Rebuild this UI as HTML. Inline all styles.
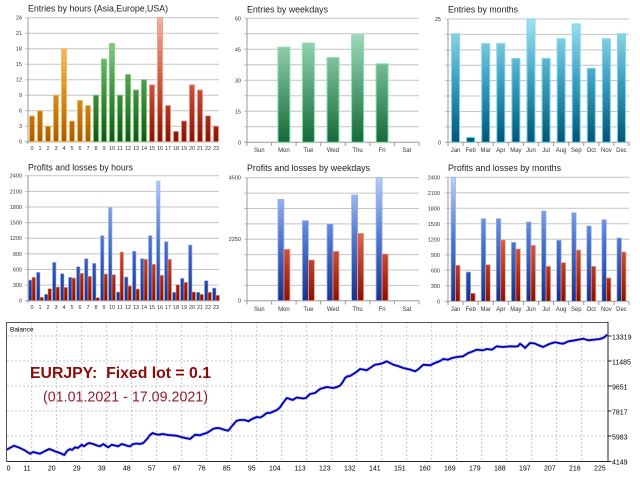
<!DOCTYPE html>
<html><head><meta charset="utf-8"><style>
html,body{margin:0;padding:0;background:#fff;}
svg{display:block;font-family:"Liberation Sans",sans-serif;}
.t{font-size:9px;fill:#222;}
.a{font-size:5.5px;fill:#333;}
.w{font-size:6px;fill:#333;}
.b{font-size:7px;fill:#000;}
</style></head><body>
<svg width="640" height="480" viewBox="0 0 640 480">
<defs>
<linearGradient id="gO" gradientUnits="userSpaceOnUse" x1="0" y1="17.7" x2="0" y2="141.7"><stop offset="0" stop-color="#fcd69a"/><stop offset="0.5" stop-color="#e69c2c"/><stop offset="1" stop-color="#ad5a00"/></linearGradient>
<linearGradient id="gG" gradientUnits="userSpaceOnUse" x1="0" y1="17.7" x2="0" y2="141.7"><stop offset="0" stop-color="#b0e4b0"/><stop offset="0.5" stop-color="#4ca24c"/><stop offset="1" stop-color="#0a5a0a"/></linearGradient>
<linearGradient id="gR" gradientUnits="userSpaceOnUse" x1="0" y1="17.7" x2="0" y2="141.7"><stop offset="0" stop-color="#f6b0a0"/><stop offset="0.5" stop-color="#d05a40"/><stop offset="1" stop-color="#8c1000"/></linearGradient>
<linearGradient id="gW" gradientUnits="userSpaceOnUse" x1="0" y1="18.3" x2="0" y2="142.3"><stop offset="0" stop-color="#b4ead0"/><stop offset="0.5" stop-color="#62aa82"/><stop offset="1" stop-color="#146a38"/></linearGradient>
<linearGradient id="gM" gradientUnits="userSpaceOnUse" x1="0" y1="19" x2="0" y2="142.3"><stop offset="0" stop-color="#a2e2f2"/><stop offset="0.5" stop-color="#3e9ebe"/><stop offset="1" stop-color="#005674"/></linearGradient>
<linearGradient id="gB" gradientUnits="userSpaceOnUse" x1="0" y1="176" x2="0" y2="301"><stop offset="0" stop-color="#bcd0f8"/><stop offset="0.5" stop-color="#5078d0"/><stop offset="1" stop-color="#1a3088"/></linearGradient>
<linearGradient id="gP" gradientUnits="userSpaceOnUse" x1="0" y1="176" x2="0" y2="301"><stop offset="0" stop-color="#f8ac94"/><stop offset="0.5" stop-color="#d86048"/><stop offset="1" stop-color="#8a1000"/></linearGradient>
</defs>
<rect width="640" height="480" fill="#fff"/>

<!-- ============ Chart A: Entries by hours ============ -->
<text class="t" x="28" y="11.5" textLength="140" lengthAdjust="spacingAndGlyphs">Entries by hours (Asia,Europe,USA)</text>
<path d="M25 126.2H219M25 110.7H219M25 95.2H219M25 79.7H219M25 64.2H219M25 48.7H219M25 33.2H219M25 17.7H219" stroke="#c4c4c4" stroke-width="1" fill="none"/>
<path d="M25 141.7H219M28 17.7V144" stroke="#9a9a9a" stroke-width="1" fill="none"/>
<g class="a" text-anchor="end">
<text x="22" y="143.7">0</text><text x="22" y="128.2">3</text><text x="22" y="112.7">6</text><text x="22" y="97.2">9</text><text x="22" y="81.7">12</text><text x="22" y="66.2">15</text><text x="22" y="50.7">18</text><text x="22" y="35.2">21</text><text x="22" y="19.7">24</text>
</g>
<g fill="url(#gO)" stroke="#f8bc58" stroke-width="0.8">
<rect x="29.5" y="115.87" width="5" height="25.83"/><rect x="37.5" y="110.7" width="5" height="31"/><rect x="45.5" y="126.2" width="5" height="15.5"/><rect x="53.5" y="95.2" width="5" height="46.5"/><rect x="61.5" y="48.7" width="5" height="93"/><rect x="69.5" y="121.03" width="5" height="20.67"/><rect x="77.5" y="100.37" width="5" height="41.33"/><rect x="85.5" y="105.53" width="5" height="36.17"/>
</g>
<g fill="url(#gG)" stroke="#78c878" stroke-width="0.8">
<rect x="93.5" y="95.2" width="5" height="46.5"/><rect x="101.5" y="59.03" width="5" height="82.67"/><rect x="109.5" y="43.53" width="5" height="98.17"/><rect x="117.5" y="95.2" width="5" height="46.5"/><rect x="125.5" y="74.53" width="5" height="67.17"/><rect x="133.5" y="90.03" width="5" height="51.67"/><rect x="141.5" y="79.7" width="5" height="62"/>
</g>
<g fill="url(#gR)" stroke="#f09482" stroke-width="0.8">
<rect x="149.5" y="84.87" width="5" height="56.83"/><rect x="157.5" y="17.7" width="5" height="124"/><rect x="165.5" y="105.53" width="5" height="36.17"/><rect x="173.5" y="131.37" width="5" height="10.33"/><rect x="181.5" y="121.03" width="5" height="20.67"/><rect x="189.5" y="84.87" width="5" height="56.83"/><rect x="197.5" y="90.03" width="5" height="51.67"/><rect x="205.5" y="115.87" width="5" height="25.83"/><rect x="213.5" y="126.2" width="5" height="15.5"/>
</g>
<g class="a" text-anchor="middle">
<text x="32" y="150">0</text><text x="40" y="150">1</text><text x="48" y="150">2</text><text x="56" y="150">3</text><text x="64" y="150">4</text><text x="72" y="150">5</text><text x="80" y="150">6</text><text x="88" y="150">7</text><text x="96" y="150">8</text><text x="104" y="150">9</text><text x="112" y="150">10</text><text x="120" y="150">11</text><text x="128" y="150">12</text><text x="136" y="150">13</text><text x="144" y="150">14</text><text x="152" y="150">15</text><text x="160" y="150">16</text><text x="168" y="150">17</text><text x="176" y="150">18</text><text x="184" y="150">19</text><text x="192" y="150">20</text><text x="200" y="150">21</text><text x="208" y="150">22</text><text x="216" y="150">23</text>
</g>

<!-- ============ Chart B: Entries by weekdays ============ -->
<text class="t" x="247" y="12.5" textLength="81" lengthAdjust="spacingAndGlyphs">Entries by weekdays</text>
<path d="M244 126.8H419M244 111.3H419M244 95.8H419M244 80.3H419M244 64.8H419M244 49.3H419M244 33.8H419M244 18.3H419" stroke="#c4c4c4" stroke-width="1" fill="none"/>
<path d="M244 142.3H419M247 18.3V146M271.6 142.3V146M296.1 142.3V146M320.7 142.3V146M345.3 142.3V146M369.9 142.3V146M394.4 142.3V146M419 142.3V146" stroke="#9a9a9a" stroke-width="1" fill="none"/>
<g class="a" text-anchor="end">
<text x="241" y="144.3">0</text><text x="241" y="113.3">15</text><text x="241" y="82.3">30</text><text x="241" y="51.3">45</text><text x="241" y="20.3">60</text>
</g>
<g fill="url(#gW)" stroke="#86e2ae" stroke-width="1">
<rect x="277.9" y="47.23" width="12" height="95.07"/><rect x="302.4" y="43.1" width="12" height="99.2"/><rect x="327" y="57.57" width="12" height="84.73"/><rect x="351.6" y="34.83" width="12" height="107.47"/><rect x="376.1" y="63.77" width="12" height="78.53"/>
</g>
<g class="w" text-anchor="middle">
<text x="259.3" y="152">Sun</text><text x="283.9" y="152">Mon</text><text x="308.4" y="152">Tue</text><text x="333" y="152">Wed</text><text x="357.6" y="152">Thu</text><text x="382.1" y="152">Fri</text><text x="406.7" y="152">Sat</text>
</g>

<!-- ============ Chart C: Entries by months ============ -->
<text class="t" x="448" y="12.5" textLength="70" lengthAdjust="spacingAndGlyphs">Entries by months</text>
<path d="M445 126.89H629M445 111.48H629M445 96.06H629M445 80.65H629M445 65.24H629M445 49.83H629M445 34.41H629M445 19H629" stroke="#c4c4c4" stroke-width="1" fill="none"/>
<path d="M445 142.3H629M448 19V146M463.08 142.3V146M478.17 142.3V146M493.25 142.3V146M508.33 142.3V146M523.42 142.3V146M538.5 142.3V146M553.58 142.3V146M568.67 142.3V146M583.75 142.3V146M598.83 142.3V146M613.92 142.3V146M629 142.3V146" stroke="#9a9a9a" stroke-width="1" fill="none"/>
<g class="a" text-anchor="end">
<text x="441" y="144.3">0</text><text x="441" y="21">25</text>
</g>
<g fill="url(#gM)" stroke="#74d8f2" stroke-width="1">
<rect x="451.54" y="33.8" width="8" height="108.5"/><rect x="466.63" y="137.37" width="8" height="4.93"/><rect x="481.71" y="43.66" width="8" height="98.64"/><rect x="496.79" y="43.66" width="8" height="98.64"/><rect x="511.88" y="58.46" width="8" height="83.84"/><rect x="526.96" y="19" width="8" height="123.3"/><rect x="542.04" y="58.46" width="8" height="83.84"/><rect x="557.13" y="38.73" width="8" height="103.57"/><rect x="572.21" y="23.93" width="8" height="118.37"/><rect x="587.29" y="68.32" width="8" height="73.98"/><rect x="602.38" y="38.73" width="8" height="103.57"/><rect x="617.46" y="33.8" width="8" height="108.5"/>
</g>
<g class="w" text-anchor="middle">
<text x="455.54" y="152">Jan</text><text x="470.63" y="152">Feb</text><text x="485.71" y="152">Mar</text><text x="500.79" y="152">Apr</text><text x="515.88" y="152">May</text><text x="530.96" y="152">Jun</text><text x="546.04" y="152">Jul</text><text x="561.13" y="152">Aug</text><text x="576.21" y="152">Sep</text><text x="591.29" y="152">Oct</text><text x="606.38" y="152">Nov</text><text x="621.46" y="152">Dec</text>
</g>

<!-- ============ Chart D: Profits and losses by hours ============ -->
<text class="t" x="28" y="170.5" textLength="105" lengthAdjust="spacingAndGlyphs">Profits and losses by hours</text>
<path d="M25 285.08H219M25 269.45H219M25 253.83H219M25 238.2H219M25 222.58H219M25 206.95H219M25 191.33H219M25 175.7H219" stroke="#c4c4c4" stroke-width="1" fill="none"/>
<path d="M25 300.7H219M28 175.7V303" stroke="#9a9a9a" stroke-width="1" fill="none"/>
<g class="a" text-anchor="end">
<text x="22" y="302.7">0</text><text x="22" y="287.08">300</text><text x="22" y="271.45">600</text><text x="22" y="255.83">900</text><text x="22" y="240.2">1200</text><text x="22" y="224.58">1500</text><text x="22" y="208.95">1800</text><text x="22" y="193.33">2100</text><text x="22" y="177.7">2400</text>
</g>
<g fill="url(#gB)" stroke="#96b4f2" stroke-width="0.6">
<rect x="28.5" y="280" width="3.5" height="20.7"/><rect x="36.5" y="272.33" width="3.5" height="28.37"/><rect x="44.5" y="294.33" width="3.5" height="6.37"/><rect x="52.5" y="262.33" width="3.5" height="38.37"/><rect x="60.5" y="273.67" width="3.5" height="27.03"/><rect x="68.5" y="277.33" width="3.5" height="23.37"/><rect x="76.5" y="266.67" width="3.5" height="34.03"/><rect x="84.5" y="258.67" width="3.5" height="42.03"/><rect x="92.5" y="263.33" width="3.5" height="37.37"/><rect x="100.5" y="235.67" width="3.5" height="65.03"/><rect x="108.5" y="207.67" width="3.5" height="93.03"/><rect x="116.5" y="292" width="3.5" height="8.7"/><rect x="124.5" y="277" width="3.5" height="23.7"/><rect x="132.5" y="251.33" width="3.5" height="49.37"/><rect x="140.5" y="258.67" width="3.5" height="42.03"/><rect x="148.5" y="235.67" width="3.5" height="65.03"/><rect x="156.5" y="181" width="3.5" height="119.7"/><rect x="164.5" y="241.67" width="3.5" height="59.03"/><rect x="172.5" y="292.33" width="3.5" height="8.37"/><rect x="180.5" y="278.33" width="3.5" height="22.37"/><rect x="188.5" y="245" width="3.5" height="55.7"/><rect x="196.5" y="292.33" width="3.5" height="8.37"/><rect x="204.5" y="280.67" width="3.5" height="20.03"/><rect x="212.5" y="288" width="3.5" height="12.7"/>
</g>
<g fill="url(#gP)" stroke="#f29c88" stroke-width="0.6">
<rect x="32" y="277.3" width="3.5" height="23.4"/><rect x="40" y="297.33" width="3.5" height="3.37"/><rect x="48" y="288.67" width="3.5" height="12.03"/><rect x="56" y="287" width="3.5" height="13.7"/><rect x="64" y="287.33" width="3.5" height="13.37"/><rect x="72" y="278" width="3.5" height="22.7"/><rect x="80" y="273.33" width="3.5" height="27.37"/><rect x="88" y="276.33" width="3.5" height="24.37"/><rect x="96" y="297.67" width="3.5" height="3.03"/><rect x="104" y="274" width="3.5" height="26.7"/><rect x="112" y="274.67" width="3.5" height="26.03"/><rect x="120" y="252" width="3.5" height="48.7"/><rect x="128" y="286" width="3.5" height="14.7"/><rect x="136" y="289" width="3.5" height="11.7"/><rect x="144" y="259.33" width="3.5" height="41.37"/><rect x="152" y="264.33" width="3.5" height="36.37"/><rect x="160" y="275.33" width="3.5" height="25.37"/><rect x="168" y="259.33" width="3.5" height="41.37"/><rect x="176" y="284.67" width="3.5" height="16.03"/><rect x="184" y="282.33" width="3.5" height="18.37"/><rect x="192" y="292" width="3.5" height="8.7"/><rect x="200" y="294.33" width="3.5" height="6.37"/><rect x="208" y="292.33" width="3.5" height="8.37"/><rect x="216" y="295.33" width="3.5" height="5.37"/>
</g>
<g class="a" text-anchor="middle">
<text x="32" y="309">0</text><text x="40" y="309">1</text><text x="48" y="309">2</text><text x="56" y="309">3</text><text x="64" y="309">4</text><text x="72" y="309">5</text><text x="80" y="309">6</text><text x="88" y="309">7</text><text x="96" y="309">8</text><text x="104" y="309">9</text><text x="112" y="309">10</text><text x="120" y="309">11</text><text x="128" y="309">12</text><text x="136" y="309">13</text><text x="144" y="309">14</text><text x="152" y="309">15</text><text x="160" y="309">16</text><text x="168" y="309">17</text><text x="176" y="309">18</text><text x="184" y="309">19</text><text x="192" y="309">20</text><text x="200" y="309">21</text><text x="208" y="309">22</text><text x="216" y="309">23</text>
</g>

<!-- ============ Chart E: Profits and losses by weekdays ============ -->
<text class="t" x="247" y="171" textLength="123" lengthAdjust="spacingAndGlyphs">Profits and losses by weekdays</text>
<path d="M244 285.33H419M244 269.95H419M244 254.58H419M244 239.2H419M244 223.83H419M244 208.45H419M244 193.08H419M244 177.7H419" stroke="#c4c4c4" stroke-width="1" fill="none"/>
<path d="M244 300.7H419M247 177.7V304.5M271.6 300.7V304.5M296.1 300.7V304.5M320.7 300.7V304.5M345.3 300.7V304.5M369.9 300.7V304.5M394.4 300.7V304.5M419 300.7V304.5" stroke="#9a9a9a" stroke-width="1" fill="none"/>
<g class="a" text-anchor="end">
<text x="241" y="302.7">0</text><text x="241" y="241.2">2250</text><text x="241" y="179.7">4500</text>
</g>
<g fill="url(#gB)" stroke="#96b4f2" stroke-width="0.8">
<rect x="277.9" y="199.33" width="6" height="101.37"/><rect x="302.4" y="220.67" width="6" height="80.03"/><rect x="327" y="224" width="6" height="76.7"/><rect x="351.6" y="195" width="6" height="105.7"/><rect x="376.1" y="177.67" width="6" height="123.03"/>
</g>
<g fill="url(#gP)" stroke="#f29c88" stroke-width="0.8">
<rect x="283.9" y="249.33" width="6" height="51.37"/><rect x="308.4" y="260" width="6" height="40.7"/><rect x="333" y="251.33" width="6" height="49.37"/><rect x="357.6" y="233.33" width="6" height="67.37"/><rect x="382.1" y="254" width="6" height="46.7"/>
</g>
<g class="w" text-anchor="middle">
<text x="259.3" y="311">Sun</text><text x="283.9" y="311">Mon</text><text x="308.4" y="311">Tue</text><text x="333" y="311">Wed</text><text x="357.6" y="311">Thu</text><text x="382.1" y="311">Fri</text><text x="406.7" y="311">Sat</text>
</g>

<!-- ============ Chart F: Profits and losses by months ============ -->
<text class="t" x="448" y="171" textLength="113" lengthAdjust="spacingAndGlyphs">Profits and losses by months</text>
<path d="M445 285.8H629M445 270.3H629M445 254.8H629M445 239.3H629M445 223.8H629M445 208.3H629M445 192.8H629M445 177.3H629" stroke="#c4c4c4" stroke-width="1" fill="none"/>
<path d="M445 301.3H629M448 177.3V305M463.08 301.3V305M478.17 301.3V305M493.25 301.3V305M508.33 301.3V305M523.42 301.3V305M538.5 301.3V305M553.58 301.3V305M568.67 301.3V305M583.75 301.3V305M598.83 301.3V305M613.92 301.3V305M629 301.3V305" stroke="#9a9a9a" stroke-width="1" fill="none"/>
<g class="a" text-anchor="end">
<text x="440" y="303.3">0</text><text x="440" y="287.8">300</text><text x="440" y="272.3">600</text><text x="440" y="256.8">900</text><text x="440" y="241.3">1200</text><text x="440" y="225.8">1500</text><text x="440" y="210.3">1800</text><text x="440" y="194.8">2100</text><text x="440" y="179.3">2400</text>
</g>
<g fill="url(#gB)" stroke="#96b4f2" stroke-width="0.7">
<rect x="451.04" y="177.33" width="4.5" height="123.97"/><rect x="466.13" y="272" width="4.5" height="29.3"/><rect x="481.21" y="218.67" width="4.5" height="82.63"/><rect x="496.29" y="218.67" width="4.5" height="82.63"/><rect x="511.38" y="242.33" width="4.5" height="58.97"/><rect x="526.46" y="222" width="4.5" height="79.3"/><rect x="541.54" y="211" width="4.5" height="90.3"/><rect x="556.63" y="240.33" width="4.5" height="60.97"/><rect x="571.71" y="212.67" width="4.5" height="88.63"/><rect x="586.79" y="226" width="4.5" height="75.3"/><rect x="601.88" y="219.67" width="4.5" height="81.63"/><rect x="616.96" y="238" width="4.5" height="63.3"/>
</g>
<g fill="url(#gP)" stroke="#f29c88" stroke-width="0.7">
<rect x="455.54" y="265.33" width="4.5" height="35.97"/><rect x="470.63" y="293.33" width="4.5" height="7.97"/><rect x="485.71" y="264.67" width="4.5" height="36.63"/><rect x="500.79" y="240" width="4.5" height="61.3"/><rect x="515.88" y="249" width="4.5" height="52.3"/><rect x="530.96" y="245.33" width="4.5" height="55.97"/><rect x="546.04" y="266.33" width="4.5" height="34.97"/><rect x="561.13" y="262.67" width="4.5" height="38.63"/><rect x="576.21" y="250" width="4.5" height="51.3"/><rect x="591.29" y="266.33" width="4.5" height="34.97"/><rect x="606.38" y="278" width="4.5" height="23.3"/><rect x="621.46" y="252" width="4.5" height="49.3"/>
</g>
<g class="w" text-anchor="middle">
<text x="455.54" y="311">Jan</text><text x="470.63" y="311">Feb</text><text x="485.71" y="311">Mar</text><text x="500.79" y="311">Apr</text><text x="515.88" y="311">May</text><text x="530.96" y="311">Jun</text><text x="546.04" y="311">Jul</text><text x="561.13" y="311">Aug</text><text x="576.21" y="311">Sep</text><text x="591.29" y="311">Oct</text><text x="606.38" y="311">Nov</text><text x="621.46" y="311">Dec</text>
</g>

<!-- ============ Balance chart ============ -->
<g stroke="#c6c6c6" stroke-width="1" stroke-dasharray="2,2" fill="none">
<path d="M7 336H608M7 361H608M7 386H608M7 411H608M7 436H608"/>
<path d="M31.7 322V461M56.7 322V461M81.7 322V461M106.7 322V461M131.7 322V461M156.7 322V461M181.7 322V461M206.7 322V461M231.7 322V461M256.7 322V461M281.7 322V461M306.7 322V461M331.7 322V461M356.7 322V461M381.7 322V461M406.7 322V461M431.7 322V461M456.7 322V461M481.7 322V461M506.7 322V461M531.7 322V461M556.7 322V461M581.7 322V461"/>
</g>
<path d="M6.5 322.5H608M6.5 322V461.5" stroke="#555" stroke-width="1" fill="none"/>
<path d="M6.5 461.5H608.5M608 322V462M608 336H611.5M608 361H611.5M608 386H611.5M608 411H611.5M608 436H611.5M608 461.5H611.5" stroke="#222" stroke-width="1" fill="none"/>
<text x="10" y="331.5" style="font-size:6.5px;fill:#000">Balance</text>

<polyline fill="none" stroke="#9c9cf0" stroke-width="3.4" stroke-linejoin="round" stroke-opacity="0.55" points="6.7,449.7 14,445.7 20,448 25,450.5 30,453.7 33.3,452 37,453 40,453.7 45,451 49.3,449 52,450 55,451.3 60,453 64.3,455 67,451 70,449 72,450 75,447.3 78,448 81.7,444.7 84,446.3 87,444 89.3,443 93,444 97,445.5 100,446.3 103.3,444 106,446 108.3,447.3 111.7,444.7 115,445.5 118.3,446.3 121.7,444 125,445 128,446 130,446.3 133.3,444 137,443.5 140,444 143.3,443 147,439 150,435 152.7,433 155,434 158.3,434.7 163,434 168,435 176.7,435.7 183,437.5 190,439 193,436.5 195,434.7 200,435.3 203,434 206.7,433 210,431 213.3,428.7 217,428 220,428.3 225,430 228.3,430.7 232,426 236.7,420.7 240,420 245,420 248.3,421.3 252,419 256.7,417 260,417.5 263,416 266.7,413 270,413 273.3,411.5 277,410 280,407.3 283,403 286.7,398 290,399 292.7,400 296.7,397.5 300,398 303,398.5 306,398 310,394 315,393 320,389 326.7,387 330,387.5 333.3,388 337,387 340,385.7 343,381.7 345,378 347.3,376.3 350,376 353.3,374 357,371.5 360,369 363,369.5 366.7,370.3 370,368 375,364.7 380,364 383,363 386.7,361.3 390,363 393.3,364.7 398,366 403.3,368 410,369.5 415,371.3 418,369.5 423.3,364.7 430,365.3 435,363 440,361 443.3,359 448,359.7 452,358 456.7,357 463,356.3 468.3,353 472,351.7 476.7,349.7 480,350 483,350.3 486.7,349 492,349.7 496.7,346.3 503,347 510,346.3 515,346.5 518,346.3 520,343.7 523,346 525,348 528,345 530,343 535,343.5 538,345 543.3,347 547,345 550,343.7 555,342.3 560,343.3 563.3,343.7 568.3,341.3 575,340.3 583.3,338.7 588.3,340.3 595,339.5 600,339 604,337.5 607.3,334.7"/>
<polyline fill="none" stroke="#0000b4" stroke-width="1.8" stroke-linejoin="round" points="6.7,449.7 14,445.7 20,448 25,450.5 30,453.7 33.3,452 37,453 40,453.7 45,451 49.3,449 52,450 55,451.3 60,453 64.3,455 67,451 70,449 72,450 75,447.3 78,448 81.7,444.7 84,446.3 87,444 89.3,443 93,444 97,445.5 100,446.3 103.3,444 106,446 108.3,447.3 111.7,444.7 115,445.5 118.3,446.3 121.7,444 125,445 128,446 130,446.3 133.3,444 137,443.5 140,444 143.3,443 147,439 150,435 152.7,433 155,434 158.3,434.7 163,434 168,435 176.7,435.7 183,437.5 190,439 193,436.5 195,434.7 200,435.3 203,434 206.7,433 210,431 213.3,428.7 217,428 220,428.3 225,430 228.3,430.7 232,426 236.7,420.7 240,420 245,420 248.3,421.3 252,419 256.7,417 260,417.5 263,416 266.7,413 270,413 273.3,411.5 277,410 280,407.3 283,403 286.7,398 290,399 292.7,400 296.7,397.5 300,398 303,398.5 306,398 310,394 315,393 320,389 326.7,387 330,387.5 333.3,388 337,387 340,385.7 343,381.7 345,378 347.3,376.3 350,376 353.3,374 357,371.5 360,369 363,369.5 366.7,370.3 370,368 375,364.7 380,364 383,363 386.7,361.3 390,363 393.3,364.7 398,366 403.3,368 410,369.5 415,371.3 418,369.5 423.3,364.7 430,365.3 435,363 440,361 443.3,359 448,359.7 452,358 456.7,357 463,356.3 468.3,353 472,351.7 476.7,349.7 480,350 483,350.3 486.7,349 492,349.7 496.7,346.3 503,347 510,346.3 515,346.5 518,346.3 520,343.7 523,346 525,348 528,345 530,343 535,343.5 538,345 543.3,347 547,345 550,343.7 555,342.3 560,343.3 563.3,343.7 568.3,341.3 575,340.3 583.3,338.7 588.3,340.3 595,339.5 600,339 604,337.5 607.3,334.7"/>

<text x="30" y="378" textLength="181" lengthAdjust="spacingAndGlyphs" style="font-size:16px;font-weight:bold;fill:#8b0a0a;white-space:pre">EURJPY:  Fixed lot = 0.1</text>
<text x="43" y="401.3" textLength="165" lengthAdjust="spacingAndGlyphs" style="font-size:14.5px;fill:#961c2e">(01.01.2021 - 17.09.2021)</text>

<g class="b">
<text x="612" y="339.5">13319</text><text x="612" y="364.5">11485</text><text x="612" y="389.5">9651</text><text x="612" y="414.5">7817</text><text x="612" y="439.5">5983</text><text x="612" y="464.5">4149</text>
</g>
<g class="b" text-anchor="end">
<text x="10.5" y="470.5">0</text><text x="30.7" y="470.5">11</text><text x="55.7" y="470.5">20</text><text x="80.7" y="470.5">29</text><text x="105.7" y="470.5">39</text><text x="130.7" y="470.5">48</text><text x="155.7" y="470.5">57</text><text x="180.7" y="470.5">67</text><text x="205.7" y="470.5">76</text><text x="230.7" y="470.5">85</text><text x="255.7" y="470.5">95</text><text x="280.7" y="470.5">104</text><text x="305.7" y="470.5">113</text><text x="330.7" y="470.5">123</text><text x="355.7" y="470.5">132</text><text x="380.7" y="470.5">141</text><text x="405.7" y="470.5">151</text><text x="430.7" y="470.5">160</text><text x="455.7" y="470.5">169</text><text x="480.7" y="470.5">179</text><text x="505.7" y="470.5">188</text><text x="530.7" y="470.5">197</text><text x="555.7" y="470.5">207</text><text x="580.7" y="470.5">216</text><text x="605.7" y="470.5">225</text>
</g>
</svg>
</body></html>
